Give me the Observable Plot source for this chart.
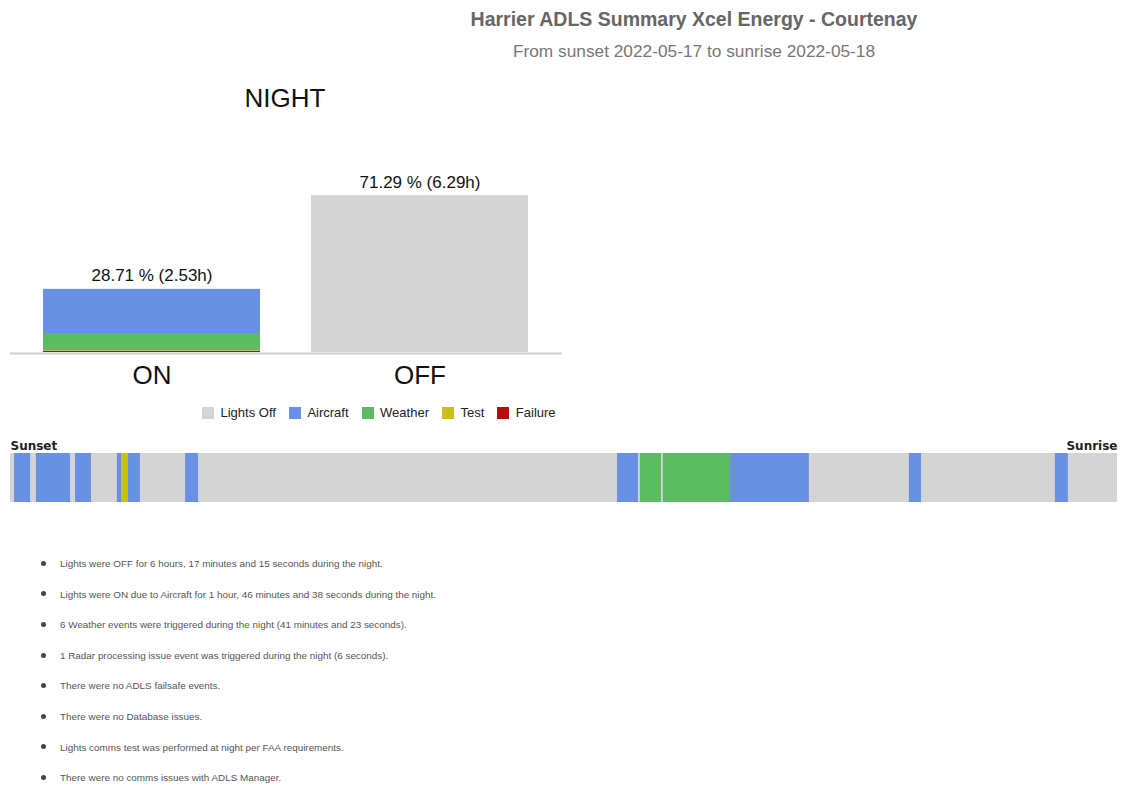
<!DOCTYPE html>
<html>
<head>
<meta charset="utf-8">
<script src="https://cdn.jsdelivr.net/npm/d3@7"></script>
<script src="https://cdn.jsdelivr.net/npm/@observablehq/plot@0.6"></script>
<style>
  html, body { margin: 0; padding: 0; background: #fff; }
  body { width: 1122px; height: 791px; position: relative; overflow: hidden; font-family: "Liberation Sans", Arial, sans-serif; }
  .abs { position: absolute; }
  #title { left: 0; width: 1388px; top: 8px; text-align: center; font-weight: bold; font-size: 19.5px; color: #666; }
  #subtitle { left: 0; width: 1388px; top: 41px; text-align: center; font-size: 17.3px; color: #777; }
  #night { left: 185px; width: 200px; top: 83px; text-align: center; font-size: 26px; color: #111; }
  #bars { left: 0; top: 150px; }
  #legend { left: 202px; top: 396px; }
  #timeline { left: 0; top: 430px; }
  .bullet { position: absolute; left: 41px; font-size: 9.9px; color: #555; white-space: nowrap; }
  .bullet .dot { display: inline-block; width: 5px; height: 5px; border-radius: 50%; background: #444; margin-right: 14px; vertical-align: middle; position: relative; top: -1px; }
</style>
</head>
<body>
<div id="title" class="abs"></div>
<div id="subtitle" class="abs"></div>
<div id="night" class="abs"></div>
<div id="bars" class="abs"></div>
<div id="legend" class="abs"></div>
<div id="timeline" class="abs"></div>
<div id="bullets"></div>
<script>
// ---- Data ----
const titleText = "Harrier ADLS Summary Xcel Energy - Courtenay";
const subtitleText = "From sunset 2022-05-17 to sunrise 2022-05-18";
const panelTitle = "NIGHT";

const categories = ["Lights Off", "Aircraft", "Weather", "Test", "Failure"];
const categoryColors = ["#d4d4d4", "#6891e4", "#5cbc62", "#c9bf17", "#b30d0d"];

const statuses = ["ON", "OFF"];
// stacked bar pieces (percent of night), bottom to top
const barStatus = ["ON", "ON", "ON", "ON", "OFF"];
const barCategory = ["Failure", "Test", "Weather", "Aircraft", "Lights Off"];
const barPercent = [0.6, 0.3, 7.72, 20.09, 71.29];
const totalPercent = [28.71, 71.29];
const totalLabels = ["28.71 % (2.53h)", "71.29 % (6.29h)"];

// timeline: minutes after sunset
const nightMinutes = 529.2;
const segStart    = [1.9, 12.4, 31.1, 51.1, 53.1, 56.4, 83.7, 290.2, 301.1, 312.1, 344.2, 429.7, 499.5];
const segEnd      = [9.6, 28.7, 38.7, 53.1, 56.4, 62.1, 89.9, 300.2, 311.2, 344.2, 381.9, 435.5, 505.7];
const segCategory = ["Aircraft", "Aircraft", "Aircraft", "Aircraft", "Test", "Aircraft", "Aircraft",
                     "Aircraft", "Weather", "Weather", "Aircraft", "Aircraft", "Aircraft"];

const bullets = [
  "Lights were OFF for 6 hours, 17 minutes and 15 seconds during the night.",
  "Lights were ON due to Aircraft for 1 hour, 46 minutes and 38 seconds during the night.",
  "6 Weather events were triggered during the night (41 minutes and 23 seconds).",
  "1 Radar processing issue event was triggered during the night (6 seconds).",
  "There were no ADLS failsafe events.",
  "There were no Database issues.",
  "Lights comms test was performed at night per FAA requirements.",
  "There were no comms issues with ADLS Manager."
];

// ---- Build ----
document.getElementById("title").textContent = titleText;
document.getElementById("subtitle").textContent = subtitleText;
document.getElementById("night").textContent = panelTitle;

const colorScale = {domain: categories, range: categoryColors};

const barRows = barStatus.map((s, i) => ({status: s, category: barCategory[i], value: barPercent[i]}));
const totalRows = statuses.map((s, i) => ({status: s, value: totalPercent[i], label: totalLabels[i]}));

const bars = Plot.plot({
  width: 580,
  height: 260,
  marginLeft: 10,
  marginRight: 18,
  marginTop: 26,
  marginBottom: 58,
  style: {fontFamily: "'Liberation Sans', Arial, sans-serif", background: "transparent"},
  x: {domain: statuses, axis: null, paddingInner: 0.19, paddingOuter: 0.123},
  y: {domain: [0, 80], axis: null},
  color: colorScale,
  marks: [
    Plot.ruleY([0], {stroke: "#cfcfcf", strokeWidth: 2, dy: 1}),
    Plot.barY(barRows, {x: "status", y: "value", fill: "category"}),
    Plot.text(totalRows, {x: "status", y: "value", text: "label", dy: -8, lineAnchor: "bottom", fontSize: 17, fill: "#111"}),
    Plot.text(statuses, {x: d => d, frameAnchor: "bottom", dy: 31, text: d => d, fontSize: 26, fill: "#111"})
  ]
});
document.getElementById("bars").appendChild(bars);

const legend = Plot.legend({
  color: {type: "categorical", ...colorScale},
  legend: "swatches",
  swatchSize: 12,
  style: {fontFamily: "'Liberation Sans', Arial, sans-serif", fontSize: "13px", color: "#222"}
});
document.getElementById("legend").appendChild(legend);

const segRows = segStart.map((s, i) => ({x1: s, x2: segEnd[i], category: segCategory[i]}));
const timeline = Plot.plot({
  width: 1122,
  height: 80,
  marginLeft: 10,
  marginRight: 5,
  marginTop: 23,
  marginBottom: 8,
  style: {fontFamily: "'DejaVu Sans', sans-serif", background: "transparent"},
  x: {domain: [0, nightMinutes], axis: null},
  color: colorScale,
  marks: [
    Plot.barX([{x1: 0, x2: nightMinutes, category: "Lights Off"}], {x1: "x1", x2: "x2", fill: "category"}),
    Plot.barX(segRows, {x1: "x1", x2: "x2", fill: "category"}),
    Plot.text(["Sunset"], {frameAnchor: "top-left", textAnchor: "start", lineAnchor: "bottom", dy: -4, text: d => d, fontSize: 12, fontWeight: "bold", fill: "#222"}),
    Plot.text(["Sunrise"], {frameAnchor: "top-right", textAnchor: "end", lineAnchor: "bottom", dy: -4, text: d => d, fontSize: 12, fontWeight: "bold", fill: "#222"})
  ]
});
document.getElementById("timeline").appendChild(timeline);

const bulletBox = document.getElementById("bullets");
bullets.forEach((t, i) => {
  const div = document.createElement("div");
  div.className = "bullet";
  div.style.top = (558 + i * 30.6) + "px";
  const dot = document.createElement("span");
  dot.className = "dot";
  div.appendChild(dot);
  div.appendChild(document.createTextNode(t));
  bulletBox.appendChild(div);
});
</script>
</body>
</html>
